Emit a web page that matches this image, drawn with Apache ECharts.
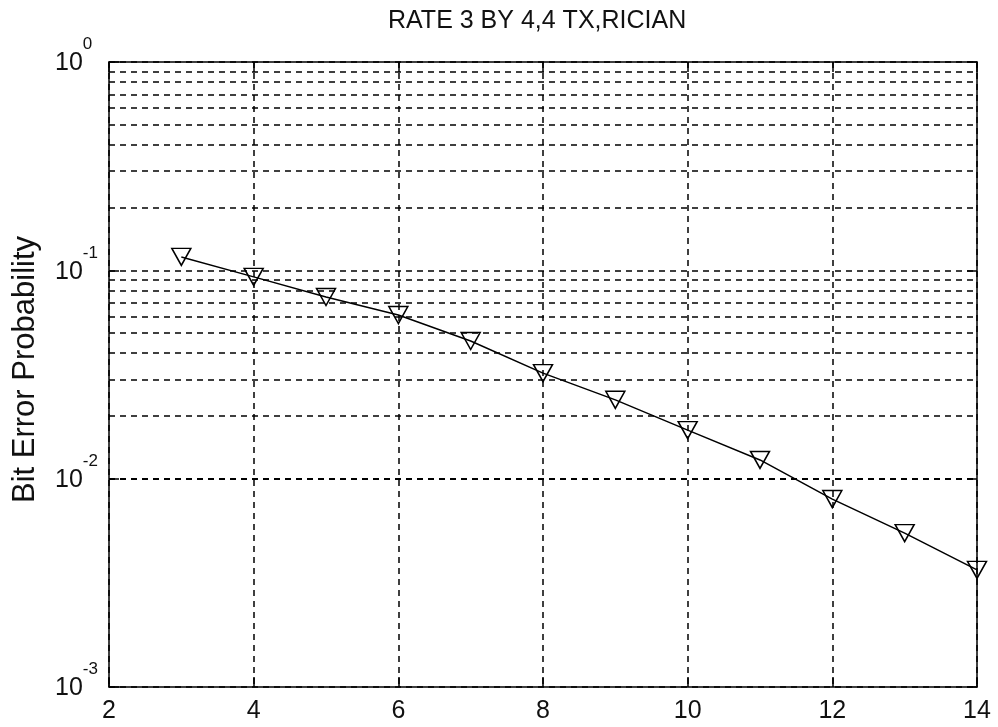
<!DOCTYPE html>
<html>
<head>
<meta charset="utf-8">
<script src="https://cdn.jsdelivr.net/npm/echarts@6/dist/echarts.min.js"></script>
<style>
  html, body { margin: 0; padding: 0; background: #fff; }
  #chart { width: 998px; height: 727px; }
</style>
</head>
<body>
<div id="chart"></div>
<script>
// Eb/No points (x) and measured bit error probability (y)
const snrValues = [3, 4, 5, 6, 7, 8, 9, 10, 11, 12, 13, 14];
const berValues = [0.116, 0.093, 0.0745, 0.061, 0.0458, 0.0321, 0.0239, 0.0171, 0.0123, 0.00798, 0.00548, 0.00365];

// Axis ranges / tick spacing
const xTicks = [2, 4, 6, 8, 10, 12, 14];
const yDecades = [0.001, 0.01, 0.1, 1];
// Intermediate log grid lines (2..9 within each decade)
const yMinorLines = [
  0.002, 0.003, 0.004, 0.005, 0.006, 0.007, 0.008, 0.009,
  0.02, 0.03, 0.04, 0.05, 0.06, 0.07, 0.08, 0.09,
  0.2, 0.3, 0.4, 0.5, 0.6, 0.7, 0.8, 0.9
];

const FONT = "'Liberation Sans', Arial, sans-serif";
const dash = { type: [6, 5], color: '#000', width: 1.5 };
const frame = { show: true, lineStyle: { color: '#000', width: 1.5 } };
const tickStyle = { show: true, inside: true, length: 10, lineStyle: { color: '#000', width: 1.5 } };

const chart = echarts.init(document.getElementById('chart'), null, { renderer: 'canvas' });

chart.setOption({
  animation: false,
  backgroundColor: '#fff',
  textStyle: { fontFamily: FONT },
  title: {
    text: 'RATE 3 BY 4,4 TX,RICIAN',
    left: 383,
    top: 4,
    textStyle: { fontFamily: FONT, fontSize: 25, fontWeight: 'normal', color: '#111' }
  },
  grid: { left: 109, top: 62, right: 21, bottom: 40, containLabel: false },
  xAxis: [
    {
      type: 'value',
      min: xTicks[0],
      max: xTicks[xTicks.length - 1],
      interval: 2,
      position: 'bottom',
      axisLine: frame,
      axisTick: tickStyle,
      axisLabel: { color: '#111', fontSize: 25, fontFamily: FONT, margin: 12 },
      splitLine: { show: true, lineStyle: dash }
    },
    {
      type: 'value',
      min: xTicks[0],
      max: xTicks[xTicks.length - 1],
      interval: 2,
      position: 'top',
      axisLine: frame,
      axisTick: tickStyle,
      axisLabel: { show: false },
      splitLine: { show: false }
    }
  ],
  yAxis: [
    {
      type: 'log',
      logBase: 10,
      min: yDecades[0],
      max: yDecades[yDecades.length - 1],
      position: 'left',
      name: 'Bit Error Probability',
      nameLocation: 'middle',
      nameGap: 68,
      nameTextStyle: { fontFamily: FONT, fontSize: 31, color: '#111', padding: [0, 0, 0, 10] },
      axisLine: frame,
      axisTick: tickStyle,
      axisLabel: {
        align: 'left',
        margin: 54,
        padding: [0, 0, 12, 0],
        formatter: function (v) {
          const e = Math.round(Math.log10(v));
          return '{b|10}{s|' + e + '}';
        },
        rich: {
          b: { fontSize: 25, fontFamily: FONT, color: '#111', lineHeight: 40, verticalAlign: 'bottom' },
          s: { fontSize: 17, fontFamily: FONT, color: '#111', lineHeight: 40, verticalAlign: 'top' }
        }
      },
      splitLine: { show: true, lineStyle: dash }
    },
    {
      type: 'log',
      logBase: 10,
      min: yDecades[0],
      max: yDecades[yDecades.length - 1],
      position: 'right',
      axisLine: frame,
      axisTick: tickStyle,
      axisLabel: { show: false },
      splitLine: { show: false }
    }
  ],
  series: [
    {
      type: 'line',
      xAxisIndex: 0,
      yAxisIndex: 0,
      data: snrValues.map((x, i) => [x, berValues[i]]),
      symbol: 'triangle',
      symbolRotate: 180,
      symbolSize: [19, 17],
      showAllSymbol: true,
      lineStyle: { color: '#000', width: 1.5 },
      itemStyle: { color: 'rgba(255,255,255,0)', borderColor: '#000', borderWidth: 1.5 },
      emphasis: { disabled: true },
      markLine: {
        silent: true,
        symbol: ['none', 'none'],
        label: { show: false },
        lineStyle: dash,
        data: yMinorLines.map(v => ({ yAxis: v }))
      },
      z: 5
    }
  ]
});
</script>
</body>
</html>
